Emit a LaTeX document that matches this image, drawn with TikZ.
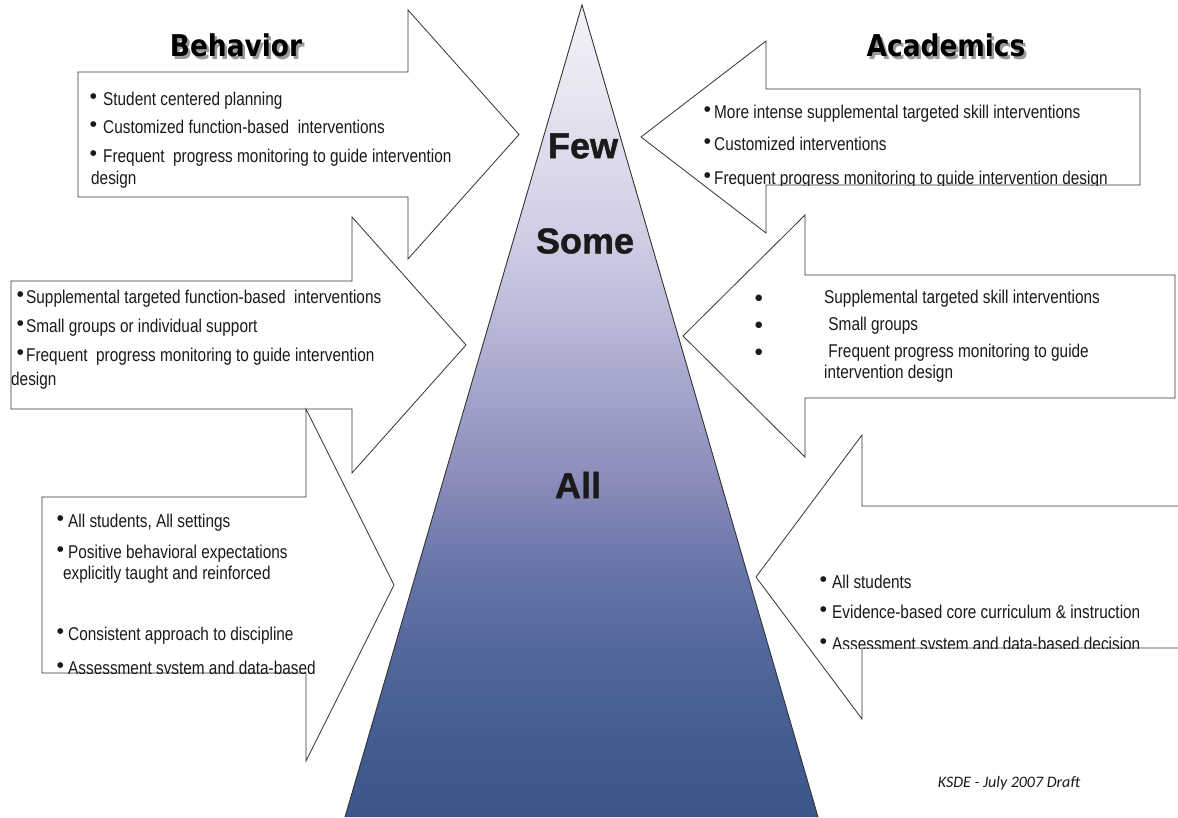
\documentclass[tikz,border=0pt]{standalone}
\usepackage{fontspec}
\setmainfont{Liberation Sans}
\newfontfamily\narrowfont[FakeStretch=0.83]{Liberation Sans}
\newfontfamily\tierfont[FakeBold=1.2]{Liberation Sans Bold}
\newfontfamily\titlefont[FakeStretch=0.88]{DejaVu Sans}
\newfontfamily\symfont{DejaVu Sans}
\newfontfamily\notefont{Carlito}

\definecolor{edge}{HTML}{333333}
\definecolor{ink}{HTML}{1A1A1A}
\definecolor{shadowgray}{HTML}{9A9A9A}
% pyramid colour stops, bottom to top
\definecolor{pA}{HTML}{3B5789}
\definecolor{pB}{HTML}{435D91}
\definecolor{pC}{HTML}{53679C}
\definecolor{pD}{HTML}{6A77AA}
\definecolor{pE}{HTML}{8A8CBA}
\definecolor{pF}{HTML}{A1A2CA}
\definecolor{pG}{HTML}{BFBEDB}
\definecolor{pH}{HTML}{CFCDE4}
\definecolor{pI}{HTML}{DEDCEC}
\definecolor{pJ}{HTML}{ECEBF4}
\definecolor{pK}{HTML}{F4F3F8}
\pgfdeclareverticalshading{pyramidfill}{100bp}{%
  color(0bp)=(pA); color(25bp)=(pA); color(29.74bp)=(pB); color(35.28bp)=(pC);
  color(40.83bp)=(pD); color(45.75bp)=(pE); color(50.68bp)=(pF);
  color(56.83bp)=(pG); color(60.53bp)=(pH); color(66.07bp)=(pI);
  color(71.61bp)=(pJ); color(75bp)=(pK); color(100bp)=(pK)}

% raised list dot, centred list dot, and heading with drop shadow
\newcommand{\hibullet}{\raisebox{6.5pt}{\symfont\fontsize{7.5}{7.5}\selectfont ●}}
\newcommand{\midbullet}{\raisebox{2.5pt}{\symfont\fontsize{8.5}{8.5}\selectfont ●}}
\newcommand{\shadowed}[1]{\makebox[0pt][l]{\hspace{2.5pt}\raisebox{-2.5pt}{\textcolor{shadowgray}{#1}}}#1}

\begin{document}
\begin{tikzpicture}[x=1pt,y=-1pt,
  blockarrow/.style={draw=edge, fill=white, line width=0.8pt, line join=miter},
  txt/.style={font=\narrowfont\fontsize{18.5}{20}\selectfont, text=ink, inner sep=0pt, anchor=base west},
  tier/.style={font=\tierfont\fontsize{36}{36}\selectfont, text=ink, inner sep=0pt},
  heading/.style={font=\titlefont\bfseries\fontsize{30}{30}\selectfont, text=black, inner sep=0pt},
  note/.style={font=\notefont\itshape\fontsize{16}{16}\selectfont, text=ink, inner sep=0pt}]
\useasboundingbox (0,0) rectangle (1178,817);
\fill[white] (0,0) rectangle (1178,817);

% the pyramid
\coordinate (apex) at (582,5);
\coordinate (baseL) at (345,817);
\coordinate (baseR) at (818,817);
\shade[shading=pyramidfill] (apex) -- (baseR) -- (baseL) -- cycle;
\draw[edge, line width=0.9pt] (baseL) -- (apex) -- (baseR);

\node[tier] (few) at (583,146) {Few};
\node[tier] (some) at (585,241) {Some};
\node[tier] (all) at (578,485) {All};

% headings
\node[heading] (beh) at (236,47) {\shadowed{Behavior}};
\node[heading] (aca) at (946,47) {\shadowed{Academics}};

% ---------- behaviour arrows (pointing right) ----------
\draw[blockarrow] (78,72) -- (408,72) -- (408,10) -- (519,134.5) -- (408,259) -- (408,197) -- (78,197) -- cycle;
\node[txt] (b1a) at (90,105) {\makebox[13pt][l]{\hibullet}Student centered planning};
\node[txt] (b1b) at (90,133) {\makebox[13pt][l]{\hibullet}Customized function-based~ interventions};
\node[txt] (b1c) at (90,162) {\makebox[13pt][l]{\hibullet}Frequent~ progress monitoring to guide intervention};
\node[txt] (b1d) at (91,184) {design};

\draw[blockarrow] (11,281) -- (352,281) -- (352,217) -- (466,345) -- (352,473) -- (352,409) -- (11,409) -- cycle;
\node[txt] (b2a) at (17,303) {\makebox[9pt][l]{\hibullet}Supplemental targeted function-based~ interventions};
\node[txt] (b2b) at (17,332) {\makebox[9pt][l]{\hibullet}Small groups or individual support};
\node[txt] (b2c) at (17,361) {\makebox[9pt][l]{\hibullet}Frequent~ progress monitoring to guide intervention};
\node[txt] (b2d) at (11,385) {design};

\draw[blockarrow] (42,497) -- (306,497) -- (306,409) -- (394,585) -- (306,761) -- (306,673) -- (42,673) -- cycle;
\begin{scope}
  \clip (0,0) rectangle (1178,673);
  \node[txt] (b3a) at (57,527) {\makebox[11pt][l]{\hibullet}All students, All settings};
  \node[txt] (b3b) at (57,558) {\makebox[11pt][l]{\hibullet}Positive behavioral expectations};
  \node[txt] (b3c) at (63,579) {explicitly taught and reinforced};
  \node[txt] (b3d) at (57,640) {\makebox[11pt][l]{\hibullet}Consistent approach to discipline};
  \node[txt] (b3e) at (57,674) {\makebox[11pt][l]{\hibullet}Assessment system and data-based};
\end{scope}

% ---------- academics arrows (pointing left) ----------
\draw[blockarrow] (1140,89) -- (766,89) -- (766,41) -- (641,137) -- (766,233) -- (766,185) -- (1140,185) -- cycle;
\begin{scope}
  \clip (0,0) rectangle (1178,185);
  \node[txt] (a1a) at (704,118) {\makebox[10pt][l]{\hibullet}More intense supplemental targeted skill interventions};
  \node[txt] (a1b) at (704,150) {\makebox[10pt][l]{\hibullet}Customized interventions};
  \node[txt] (a1c) at (704,184) {\makebox[10pt][l]{\hibullet}Frequent progress monitoring to guide intervention design};
\end{scope}

\draw[blockarrow] (1175,275) -- (805,275) -- (805,215) -- (683,336) -- (805,457) -- (805,398) -- (1175,398) -- cycle;
\node[txt] (a2a) at (755,303) {\makebox[69pt][l]{\midbullet}Supplemental targeted skill interventions};
\node[txt] (a2b) at (755,330) {\makebox[69pt][l]{\midbullet}~Small groups};
\node[txt] (a2c) at (755,357) {\makebox[69pt][l]{\midbullet}~Frequent progress monitoring to guide};
\node[txt] (a2d) at (824,378) {intervention design};

\draw[blockarrow] (1182,506) -- (862,506) -- (862,435) -- (756,577) -- (862,719) -- (862,648) -- (1182,648) -- cycle;
\begin{scope}
  \clip (0,0) rectangle (1178,648);
  \node[txt] (a3a) at (820,588) {\makebox[12pt][l]{\hibullet}All students};
  \node[txt] (a3b) at (820,618) {\makebox[12pt][l]{\hibullet}Evidence-based core curriculum \& instruction};
  \node[txt] (a3c) at (820,650) {\makebox[12pt][l]{\hibullet}Assessment system and data-based decision};
\end{scope}

\node[note] (draft) at (1009,783) {KSDE - July 2007 Draft};
\end{tikzpicture}
\end{document}
